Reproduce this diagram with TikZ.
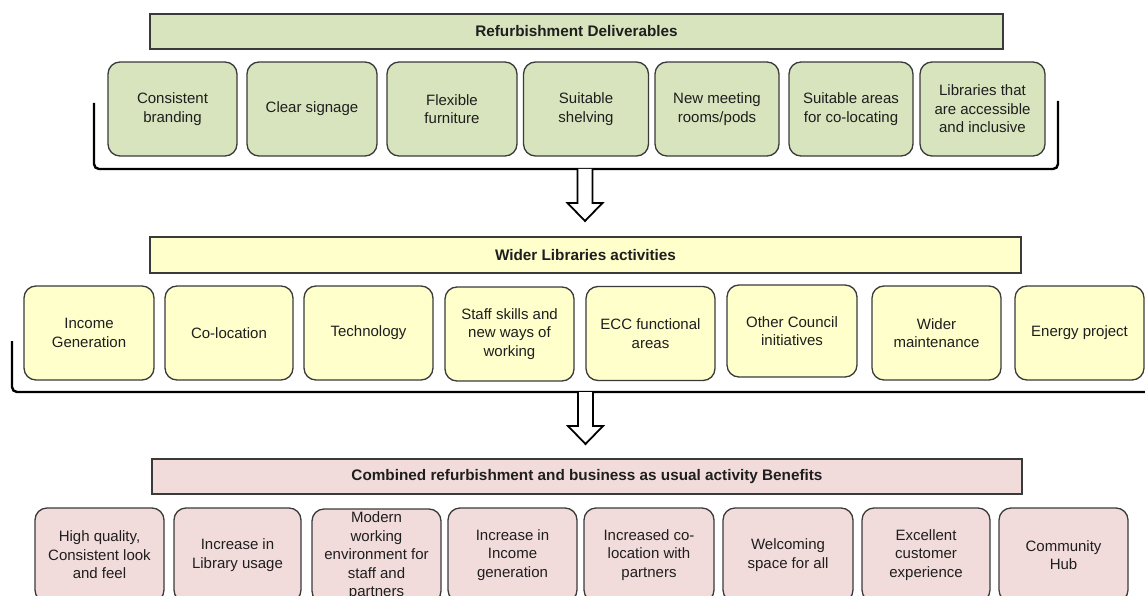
\documentclass[tikz,border=0pt]{standalone}
\usepackage{fontspec}
\setmainfont{Liberation Sans}
\usetikzlibrary{calc}
\definecolor{gfill}{HTML}{D7E4BD}
\definecolor{yfill}{HTML}{FFFFCC}
\definecolor{pfill}{HTML}{F2DCDB}
\definecolor{bordc}{HTML}{3A3A3A}
\definecolor{txtc}{HTML}{1E1E1E}
\tikzset{
  base/.style={draw=bordc, line width=1.3pt, rounded corners=12pt, minimum height=94pt,
    inner sep=0pt, align=center, text=txtc, font=\fontsize{15}{18.5}\selectfont},
  gbox/.style={base, fill=gfill},
  ybox/.style={base, fill=yfill},
  pbox/.style={base, fill=pfill},
  hdr/.style={draw=bordc, line width=1.3pt, inner sep=0pt, align=center, text=txtc,
    font=\fontsize{15.3}{17}\selectfont\bfseries},
  brack/.style={draw=black, line width=2.4pt, rounded corners=5pt},
  blockarrow/.style={draw=black, fill=white, line width=1.8pt, line join=miter}
}
\begin{document}
\begin{tikzpicture}[x=1pt,y=-1pt]
\useasboundingbox (0,0) rectangle (1145,596);
\clip (0,0) rectangle (1145,596);

% ---------- Row 1 ----------
\node[hdr, fill=gfill, minimum width=853pt, minimum height=35pt] (h1) at (576.5,31.5) {Refurbishment Deliverables};
\node[gbox, minimum width=129pt] (d1) at (172.5,109) {Consistent\\branding};
\node[gbox, minimum width=130pt] (d2) at (312,109) {Clear signage};
\node[gbox, minimum width=130pt] (d3) at (452,109) {Flexible\\furniture};
\node[gbox, minimum width=125pt] (d4) at (586,109) {Suitable\\shelving};
\node[gbox, minimum width=124pt] (d5) at (717,109) {New meeting\\rooms/pods};
\node[gbox, minimum width=124pt] (d6) at (851,109) {Suitable areas\\for co-locating};
\node[gbox, minimum width=125pt] (d7) at (982.5,109) {Libraries that\\are accessible\\and inclusive};

\coordinate (b1l) at (94,103);
\coordinate (b1r) at (1058,101);
\coordinate (a1s) at (585,169);
\draw[brack] (b1l) -- (94,169) -- (1058,169) -- (b1r);

% arrow 1
\draw[blockarrow] ($(a1s)+(-7.5,0)$) -- ++(0,34) -- ++(-10,0) -- (585,221) -- (602.5,203) -- ++(-10,0) -- (592.5,169);

% ---------- Row 2 ----------
\node[hdr, fill=yfill, minimum width=871pt, minimum height=36pt] (h2) at (585.5,255) {Wider Libraries activities};
\node[ybox, minimum width=130pt] (w1) at (89,333) {Income\\Generation};
\node[ybox, minimum width=128pt] (w2) at (229,333) {Co-location};
\node[ybox, minimum width=129pt] (w3) at (368.5,333) {Technology};
\node[ybox, minimum width=129pt] (w4) at (509.5,334) {Staff skills and\\new ways of\\working};
\node[ybox, minimum width=129pt] (w5) at (650.5,333.5) {ECC functional\\areas};
\node[ybox, minimum width=130pt, minimum height=92pt] (w6) at (792,331) {Other Council\\initiatives};
\node[ybox, minimum width=129pt] (w7) at (936.5,333) {Wider\\maintenance};
\node[ybox, minimum width=129pt] (w8) at (1079.5,333) {Energy project};

\coordinate (b2l) at (12,341);
\coordinate (b2r) at (1146,392);
\coordinate (a2s) at (585.5,392);
\draw[brack] (b2l) -- (12,392) -- (b2r);

% arrow 2
\draw[blockarrow] ($(a2s)+(-7.5,0)$) -- ++(0,34) -- ++(-10,0) -- (585.5,444) -- (603,426) -- ++(-10,0) -- (593,392);

% ---------- Row 3 ----------
\node[hdr, fill=pfill, minimum width=870pt, minimum height=35pt] (h3) at (587,476.5) {Combined refurbishment and business as usual activity Benefits};
\node[pbox, minimum width=129pt] (p1) at (99.5,555) {High quality,\\Consistent look\\and feel};
\node[pbox, minimum width=127pt] (p2) at (237.5,555) {Increase in\\Library usage};
\node[pbox, minimum width=129pt] (p3) at (376.5,556) {Modern\\working\\environment for\\staff and\\partners};
\node[pbox, minimum width=129pt] (p4) at (512.5,555) {Increase in\\Income\\generation};
\node[pbox, minimum width=130pt] (p5) at (649,555) {Increased co-\\location with\\partners};
\node[pbox, minimum width=130pt] (p6) at (788,555) {Welcoming\\space for all};
\node[pbox, minimum width=128pt] (p7) at (926,555) {Excellent\\customer\\experience};
\node[pbox, minimum width=129pt] (p8) at (1063.5,555) {Community\\Hub};
\end{tikzpicture}
\end{document}
